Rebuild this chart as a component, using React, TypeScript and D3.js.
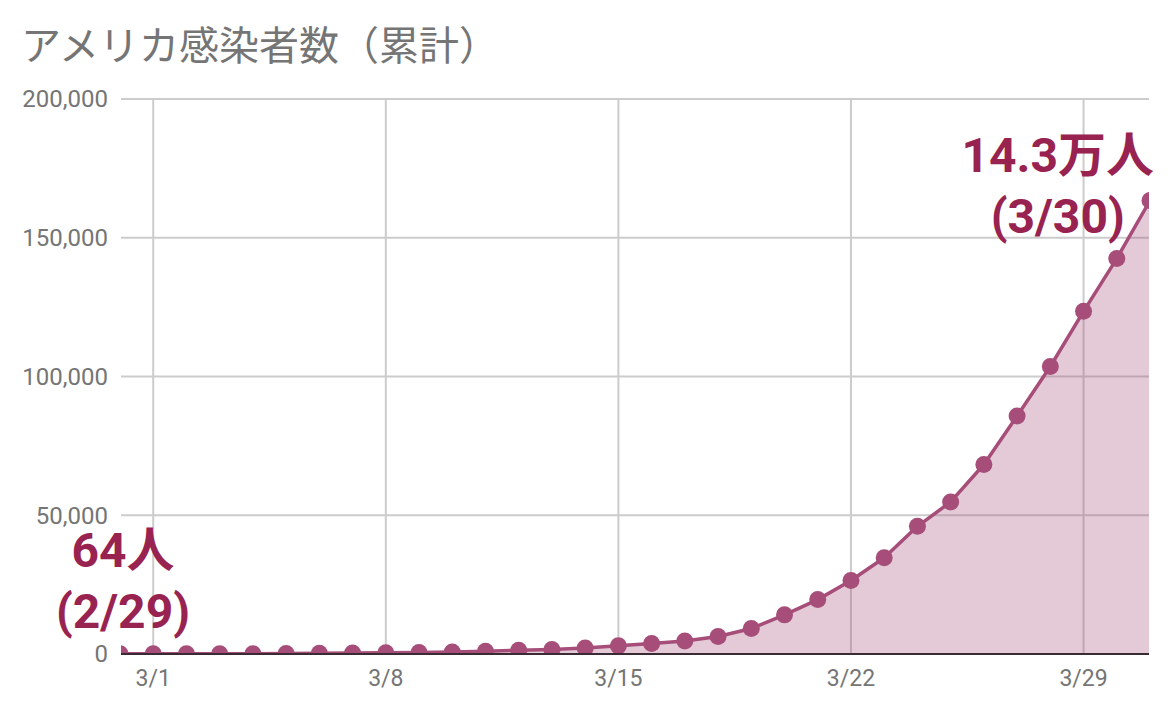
import React from 'react';
import * as d3 from 'd3';

// 日付（2/29〜3/31）
const dates = [
    '2020-02-29', '2020-03-01', '2020-03-02', '2020-03-03', '2020-03-04', '2020-03-05',
    '2020-03-06', '2020-03-07', '2020-03-08', '2020-03-09', '2020-03-10', '2020-03-11',
    '2020-03-12', '2020-03-13', '2020-03-14', '2020-03-15', '2020-03-16', '2020-03-17',
    '2020-03-18', '2020-03-19', '2020-03-20', '2020-03-21', '2020-03-22', '2020-03-23',
    '2020-03-24', '2020-03-25', '2020-03-26', '2020-03-27', '2020-03-28', '2020-03-29',
    '2020-03-30', '2020-03-31'
];

// 累計感染者数
const cases = [
    64, 70, 90, 105, 125, 160,
    230, 330, 440, 550, 710, 1000,
    1320, 1660, 2200, 2950, 3770, 4660,
    6300, 9200, 14100, 19600, 26500, 34700,
    46000, 54800, 68300, 85800, 103600, 123500,
    142500, 163400
];

const yTicks = [0, 50000, 100000, 150000, 200000];
const xTicks = ['2020-03-01', '2020-03-08', '2020-03-15', '2020-03-22', '2020-03-29'];

const annotations = [
    { date: '2020-02-29', lines: ['64人', '(2/29)'] },
    { date: '2020-03-30', lines: ['14.3万人', '(3/30)'] }
];

const title = 'アメリカ感染者数（累計）';

const WIDTH = 1170;
const HEIGHT = 710;
const COLOR = '#a64d79';
const LABEL_COLOR = '#992350';
const TEXT_GRAY = '#757575';
const LATIN = "Roboto, 'Noto Sans CJK JP', sans-serif";

const parse = d3.timeParse('%Y-%m-%d');
const fmtDay = d3.timeFormat('%-m/%-d');
const fmtNum = d3.format(',');

export default function App() {
    const plot = { left: 121, right: 1149, top: 99, bottom: 654 };

    const data = dates.map((d, i) => ({ date: parse(d) as Date, value: cases[i] }));

    const x = d3.scaleTime()
        .domain([parse(dates[0]) as Date, parse(dates[dates.length - 1]) as Date])
        .range([120, 1150]);

    const y = d3.scaleLinear()
        .domain([0, 200000])
        .range([plot.bottom, plot.top]);

    const line = d3.line<{ date: Date; value: number }>()
        .x(d => x(d.date))
        .y(d => y(d.value));

    const area = d3.area<{ date: Date; value: number }>()
        .x(d => x(d.date))
        .y0(y(0))
        .y1(d => y(d.value));

    // ラベルのずれ（右端はプロット内に収める）
    const labelDx = [3, -59];

    return (
        <div style={{ position: 'absolute', left: 0, top: 0 }}>
            <svg width={WIDTH} height={HEIGHT} style={{ display: 'block', background: '#fff' }}>
                <defs>
                    <clipPath id="plot-clip">
                        <rect x={plot.left} y={0} width={plot.right - plot.left} height={plot.bottom - 1} />
                    </clipPath>
                </defs>

                <text x={21} y={60} fontFamily="'Noto Sans CJK JP', sans-serif" fontSize={40} fill={TEXT_GRAY}>
                    {title}
                </text>

                {/* grid */}
                <g stroke="#cccccc" strokeWidth={2}>
                    {yTicks.filter(t => t > 0).map(t => (
                        <line key={t} x1={plot.left} x2={plot.right} y1={y(t)} y2={y(t)} />
                    ))}
                    {xTicks.map(t => {
                        const xv = x(parse(t) as Date);
                        return <line key={t} x1={xv} x2={xv} y1={plot.top} y2={plot.bottom} />;
                    })}
                </g>

                <g clipPath="url(#plot-clip)">
                    <path d={area(data) ?? ''} fill={COLOR} fillOpacity={0.3} />
                    <path d={line(data) ?? ''} fill="none" stroke={COLOR} strokeWidth={3.5} strokeLinejoin="round" />
                    {data.map(d => (
                        <circle key={d.date.toISOString()} cx={x(d.date)} cy={y(d.value)} r={8.5} fill={COLOR} />
                    ))}
                </g>

                <line x1={plot.left} x2={plot.right} y1={plot.bottom} y2={plot.bottom} stroke="#3a2a33" strokeWidth={2} />

                {/* y axis labels */}
                <g fontFamily={LATIN} fontSize={24} fill={TEXT_GRAY} textAnchor="end">
                    {yTicks.map(t => (
                        <text key={t} x={108} y={y(t)} dy="0.35em">{fmtNum(t)}</text>
                    ))}
                </g>

                {/* x axis labels */}
                <g fontFamily={LATIN} fontSize={23} fill={TEXT_GRAY} textAnchor="middle">
                    {xTicks.map(t => {
                        const dt = parse(t) as Date;
                        return <text key={t} x={x(dt)} y={686}>{fmtDay(dt)}</text>;
                    })}
                </g>

                {/* annotations */}
                <g fontFamily={LATIN} fontSize={48} fontWeight="bold" fill={LABEL_COLOR} textAnchor="middle">
                    {annotations.map((a, i) => {
                        const idx = dates.indexOf(a.date);
                        const px = x(data[idx].date) + labelDx[i];
                        const py = y(data[idx].value);
                        return (
                            <g key={a.date}>
                                <text x={px} y={py - 87}>{a.lines[0]}</text>
                                <text x={px} y={py - 26}>{a.lines[1]}</text>
                            </g>
                        );
                    })}
                </g>
            </svg>
        </div>
    );
}
